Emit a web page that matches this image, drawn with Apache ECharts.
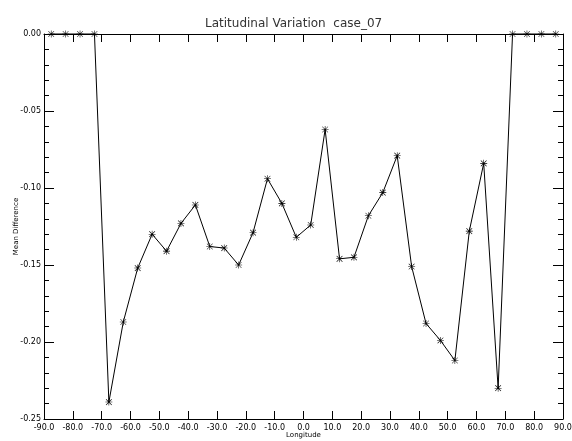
<!DOCTYPE html>
<html>
<head>
<meta charset="utf-8">
<script src="https://cdn.jsdelivr.net/npm/echarts@6/dist/echarts.min.js"></script>
<style>html,body{margin:0;padding:0;background:#fff;}#c{width:572px;height:441px;}</style>
</head>
<body>
<div id="c"></div>
<script>
var longitudes = [-87.5,-82.5,-77.5,-72.5,-67.5,-62.5,-57.5,-52.5,-47.5,-42.5,-37.5,-32.5,-27.5,-22.5,-17.5,-12.5,-7.5,-2.5,2.5,7.5,12.5,17.5,22.5,27.5,32.5,37.5,42.5,47.5,52.5,57.5,62.5,67.5,72.5,77.5,82.5,87.5];
var meanDiff = [0,0,0,0,-0.239,-0.187,-0.152,-0.130,-0.141,-0.123,-0.111,-0.138,-0.139,-0.150,-0.129,-0.094,-0.110,-0.132,-0.124,-0.062,-0.146,-0.145,-0.118,-0.103,-0.079,-0.151,-0.188,-0.199,-0.212,-0.128,-0.084,-0.230,0,0,0,0];
var xTicks = [-90,-80,-70,-60,-50,-40,-30,-20,-10,0,10,20,30,40,50,60,70,80,90];
var yTicks = [-0.25,-0.20,-0.15,-0.10,-0.05,0.00];

var chart = echarts.init(document.getElementById('c'), null, {renderer:'canvas'});
var font = 'DejaVu Sans';
var star = 'path://M0,4.6L10,4.6L10,5.4L0,5.4Z M4.6,0L5.4,0L5.4,10L4.6,10Z M1.2,0.6L9.4,8.8L8.8,9.4L0.6,1.2Z M8.8,0.6L9.4,1.2L1.2,9.4L0.6,8.8Z';
var data = longitudes.map(function(x,i){return [x, meanDiff[i]];});
chart.setOption({
  animation:false,
  backgroundColor:'#fff',
  title:{text:'Latitudinal Variation  case_07', left:200, top:13,
    textStyle:{fontFamily:font, fontSize:12, fontWeight:'normal', color:'#333'}},
  grid:{left:44, right:9, top:34, bottom:22, containLabel:false, outerBoundsMode:'none'},
  xAxis:[{
    type:'value', min:xTicks[0], max:xTicks[xTicks.length-1], interval:10, position:'bottom',
    name:'Longitude', nameLocation:'middle', nameGap:13, nameMoveOverlap:false,
    nameTextStyle:{fontFamily:font, fontSize:7, color:'#000'},
    axisLine:{show:true, onZero:false, lineStyle:{color:'#000', width:1}},
    axisTick:{show:true, inside:true, length:8, lineStyle:{color:'#000'}},
    axisLabel:{fontFamily:font, fontSize:8, color:'#000', margin:5, formatter:function(v){return v.toFixed(1);}},
    splitLine:{show:false}
  },{
    type:'value', min:xTicks[0], max:xTicks[xTicks.length-1], interval:10, position:'top',
    axisLine:{show:true, onZero:false, lineStyle:{color:'#000', width:1}},
    axisTick:{show:true, inside:true, length:8, lineStyle:{color:'#000'}},
    axisLabel:{show:false}, splitLine:{show:false}
  }],
  yAxis:[{
    type:'value', min:yTicks[0], max:yTicks[yTicks.length-1], interval:0.05, position:'left',
    name:'Mean Difference', nameLocation:'middle', nameGap:24, nameRotate:90, nameMoveOverlap:false,
    nameTextStyle:{fontFamily:font, fontSize:7, color:'#000'},
    axisLine:{show:true, onZero:false, lineStyle:{color:'#000', width:1}},
    axisTick:{show:true, inside:true, length:10, lineStyle:{color:'#000'}},
    minorTick:{show:true, splitNumber:5, length:5, lineStyle:{color:'#000'}},
    axisLabel:{fontFamily:font, fontSize:8, color:'#000', margin:3, formatter:function(v){return v.toFixed(2);}},
    splitLine:{show:false}
  },{
    type:'value', min:yTicks[0], max:yTicks[yTicks.length-1], interval:0.05, position:'right',
    axisLine:{show:true, onZero:false, lineStyle:{color:'#000', width:1}},
    axisTick:{show:true, inside:true, length:10, lineStyle:{color:'#000'}},
    minorTick:{show:true, splitNumber:5, length:5, lineStyle:{color:'#000'}},
    axisLabel:{show:false}, splitLine:{show:false}
  }],
  series:[{
    type:'line', data:data, xAxisIndex:0, yAxisIndex:0,
    symbol:star, symbolSize:7, showAllSymbol:true,
    lineStyle:{color:'#000', width:1},
    itemStyle:{color:'#000'},
    clip:false
  }]
});
</script>
</body>
</html>
